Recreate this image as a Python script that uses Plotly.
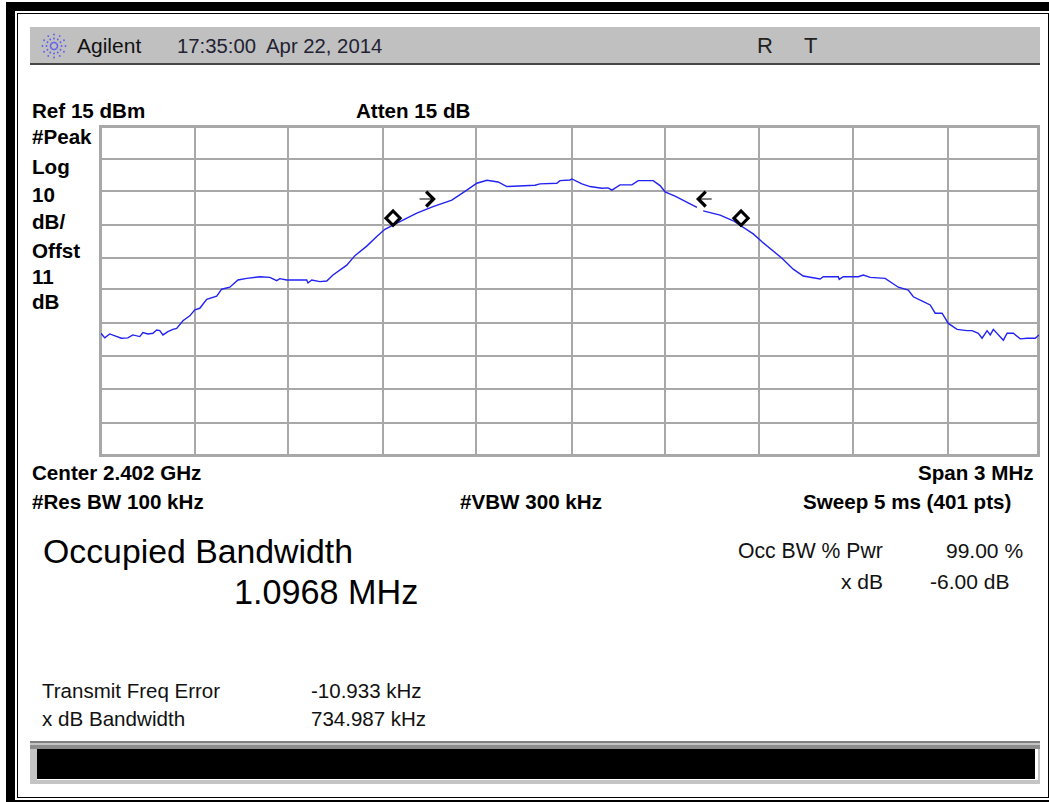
import math
import plotly.graph_objects as go

# Trace: offset from centre (MHz) and level (dBm)
freq_offset_mhz = [-1.5,-1.488,-1.472,-1.456,-1.435,-1.414,-1.398,-1.376,-1.366,-1.35,-1.334,-1.322,-1.312,-1.302,-1.286,-1.27,-1.258,-1.238,-1.216,-1.2,-1.184,-1.162,-1.13,-1.114,-1.088,-1.062,-1.034,-0.992,-0.96,-0.938,-0.928,-0.906,-0.842,-0.838,-0.826,-0.8,-0.778,-0.758,-0.714,-0.688,-0.65,-0.618,-0.592,-0.566,-0.534,-0.49,-0.438,-0.378,-0.33,-0.298,-0.266,-0.23,-0.202,-0.112,-0.096,-0.042,-0.032,0,0.006,0.038,0.064,0.102,0.122,0.134,0.16,0.198,0.218,0.266,0.288,0.304,0.336,0.374,0.406,None,0.426,0.48,0.522,0.55,0.586,0.614,0.65,0.678,0.714,0.746,0.8,0.81,0.858,0.861,0.874,0.922,0.938,0.96,1.008,1.04,1.05,1.082,1.098,1.13,1.152,1.168,1.19,1.21,1.238,1.27,1.286,1.306,1.318,1.334,1.344,1.354,1.37,1.386,1.398,1.418,1.44,1.462,1.488,1.5]
level_dbm = [-47.7,-49.1,-47.9,-48.4,-49.2,-49.1,-48.2,-48.7,-47.5,-47.9,-47.7,-46.7,-46.9,-48.2,-47.2,-46.5,-46.2,-43.9,-42.4,-40.6,-40.1,-37.4,-36.4,-34.3,-33.7,-31.5,-31.0,-30.5,-30.7,-31.7,-31.1,-31.5,-31.5,-32.4,-31.5,-32.0,-31.8,-30.0,-27.0,-24.1,-21.2,-18.3,-16.1,-14.8,-13.3,-11.2,-9.2,-7.2,-4.2,-2.1,-1.2,-1.7,-3.1,-2.7,-2.3,-2.1,-1.3,-1.1,-0.8,-2.3,-3.1,-3.6,-3.5,-4.2,-2.6,-2.6,-1.3,-1.3,-2.8,-4.7,-6.0,-7.9,-9.4,None,-10.5,-11.8,-13.5,-15.3,-17.5,-19.9,-22.6,-24.9,-28.2,-30.3,-31.2,-30.5,-30.5,-31.3,-30.5,-30.5,-30.0,-30.7,-31.0,-33.0,-33.7,-34.6,-36.6,-38.1,-39.1,-41.6,-41.6,-44.7,-46.5,-46.9,-46.9,-47.7,-49.2,-46.9,-48.2,-46.5,-48.2,-49.8,-47.7,-47.7,-49.4,-49.2,-49.2,-48.2]

# Graticule as it appears in the picture (slightly uneven)
x_grid_mhz = [-1.2, -0.902, -0.598, -0.301, 0.006, 0.304, 0.605, 0.906, 1.21]
y_grid_dbm = [5.4, -4.6, -14.8, -24.8, -34.2, -44.6, -54.6, -64.5, -75.0]

marker_freq = [-0.566, 0.547]
marker_level = [-12.7, -12.7]
arrow_tip_freq = [-0.429, 0.403]
arrow_tail_freq = [-0.486, 0.458]
arrow_level = [-6.9, -6.9]

W, H = 1049, 802
FONT = "Liberation Sans"
BLUE = "#2222f2"
GRID = "#a8a8a8"

def px(x): return x / W
def py(y): return 1 - y / H

# text, x, y (middle), anchor, size, bold, colour
labels = [
    ("Agilent", 77, 46, "left", 21, False, "#111111"),
    ("17:35:00  Apr 22, 2014", 177, 46, "left", 20.3, False, "#222233"),
    ("R", 757, 46, "left", 22, False, "#222222"),
    ("T", 804, 46, "left", 22, False, "#222222"),
    ("Ref 15 dBm", 32, 111, "left", 20.6, True, "#000000"),
    ("Atten 15 dB", 356, 111, "left", 20.6, True, "#000000"),
    ("#Peak", 32, 137, "left", 20.6, True, "#000000"),
    ("Log", 32, 166, "left", 20.6, True, "#000000"),
    ("10", 32, 194, "left", 20.6, True, "#000000"),
    ("dB/", 32, 222, "left", 20.6, True, "#000000"),
    ("Offst", 32, 250, "left", 20.6, True, "#000000"),
    ("11", 32, 276, "left", 20.6, True, "#000000"),
    ("dB", 32, 301, "left", 20.6, True, "#000000"),
    ("Center 2.402 GHz", 32, 473, "left", 20.6, True, "#000000"),
    ("Span 3 MHz", 1034, 473, "right", 20.6, True, "#000000"),
    ("#Res BW 100 kHz", 32, 501, "left", 20.6, True, "#000000"),
    ("#VBW 300 kHz", 460, 501, "left", 20.6, True, "#000000"),
    ("Sweep 5 ms (401 pts)", 1011, 501, "right", 20.6, True, "#000000"),
    ("Occupied Bandwidth", 43, 551, "left", 33.8, False, "#000000"),
    ("1.0968 MHz", 234, 592, "left", 34.2, False, "#000000"),
    ("Occ BW % Pwr", 883, 550, "right", 21.2, False, "#111111"),
    ("99.00 %", 1023, 550, "right", 21, False, "#111111"),
    ("x dB", 883, 581, "right", 21, False, "#111111"),
    ("-6.00 dB", 1009, 581, "right", 21, False, "#111111"),
    ("Transmit Freq Error", 42, 690, "left", 20.5, False, "#111111"),
    ("-10.933 kHz", 311, 690, "left", 20.5, False, "#111111"),
    ("x dB Bandwidth", 42, 718, "left", 20.6, False, "#111111"),
    ("734.987 kHz", 311, 718, "left", 20.5, False, "#111111"),
]

def rect(x0, y0, x1, y1, color):
    return dict(type="rect", xref="paper", yref="paper", x0=px(x0), x1=px(x1),
                y0=py(y1), y1=py(y0), fillcolor=color, line_width=0, layer="below")

shapes = [
    rect(6, 2, 15, 802, "#000000"),
    rect(6, 2, 1049, 11, "#000000"),
    rect(17, 13, 18, 798, "#000000"),
    rect(17, 13, 1049, 14, "#000000"),
    rect(1048, 13, 1049, 798, "#000000"),
    rect(17, 797, 1049, 798, "#000000"),
    rect(6, 800, 1049, 802, "#000000"),
    rect(30, 27, 1040, 63, "#c0c0c0"),
    rect(30, 63, 1040, 65, "#464646"),
    rect(30, 741, 1040, 784, "#c4c4c4"),
    rect(30, 741, 1040, 743, "#808080"),
    rect(30, 745, 1040, 749, "#8c8c8c"),
    rect(37, 749, 1038, 780, "#ffffff"),
    rect(37, 749, 1035, 779, "#000000"),
    dict(type="rect", xref="paper", yref="paper", x0=px(100.5), x1=px(1038.5),
         y0=py(455.5), y1=py(126.5), line=dict(color=GRID, width=3), layer="below"),
]
# Agilent starburst logo
for k in range(12):
    a = k * math.pi / 6
    for r in (3.5, 7.5, 11.5):
        cx, cy = 54 + r * math.cos(a), 46 + r * math.sin(a)
        shapes.append(dict(type="circle", xref="paper", yref="paper",
                           x0=px(cx - 0.9), x1=px(cx + 0.9), y0=py(cy + 0.9), y1=py(cy - 0.9),
                           fillcolor="#5a5af0", line_width=0))

annotations = []
for text, x, y, anchor, size, bold, color in labels:
    annotations.append(dict(
        text=f"<b>{text}</b>" if bold else text, xref="paper", yref="paper",
        x=px(x - 1 if anchor == "left" else x + 1), y=py(y), xanchor=anchor, yanchor="middle",
        showarrow=False, borderpad=0, font=dict(family=FONT, size=size, color=color)))
for tip, tail, v in zip(arrow_tip_freq, arrow_tail_freq, arrow_level):
    annotations.append(dict(text="", x=tip, y=v, xref="x", yref="y", ax=tail, ay=v,
                            axref="x", ayref="y", showarrow=True, arrowhead=4,
                            arrowsize=2.6, arrowwidth=1.1, arrowcolor="#000000"))

fig = go.Figure()
fig.add_trace(go.Scatter(x=freq_offset_mhz, y=level_dbm, mode="lines",
                         line=dict(color=BLUE, width=1.4), hoverinfo="skip"))
fig.add_trace(go.Scatter(x=marker_freq, y=marker_level, mode="markers",
                         marker=dict(symbol="diamond", size=11, color="white",
                                     line=dict(color="black", width=3)), hoverinfo="skip"))
fig.update_layout(
    width=W, height=H, margin=dict(l=0, r=0, t=0, b=0), showlegend=False,
    paper_bgcolor="white", plot_bgcolor="rgba(0,0,0,0)",
    xaxis=dict(domain=[px(101), px(1039)], range=[-1.5, 1.5], tickmode="array", tickvals=x_grid_mhz,
               showticklabels=False, ticks="", zeroline=False, showgrid=True,
               gridcolor=GRID, gridwidth=2, showline=False),
    yaxis=dict(domain=[py(456), py(127)], range=[-85, 15], tickmode="array", tickvals=y_grid_dbm,
               showticklabels=False, ticks="", zeroline=False, showgrid=True,
               gridcolor=GRID, gridwidth=2, showline=False),
    shapes=shapes, annotations=annotations,
)
fig.write_html("out.html", config={"displayModeBar": False},
               post_script="document.body.style.margin='0';document.body.style.overflow='hidden';")
